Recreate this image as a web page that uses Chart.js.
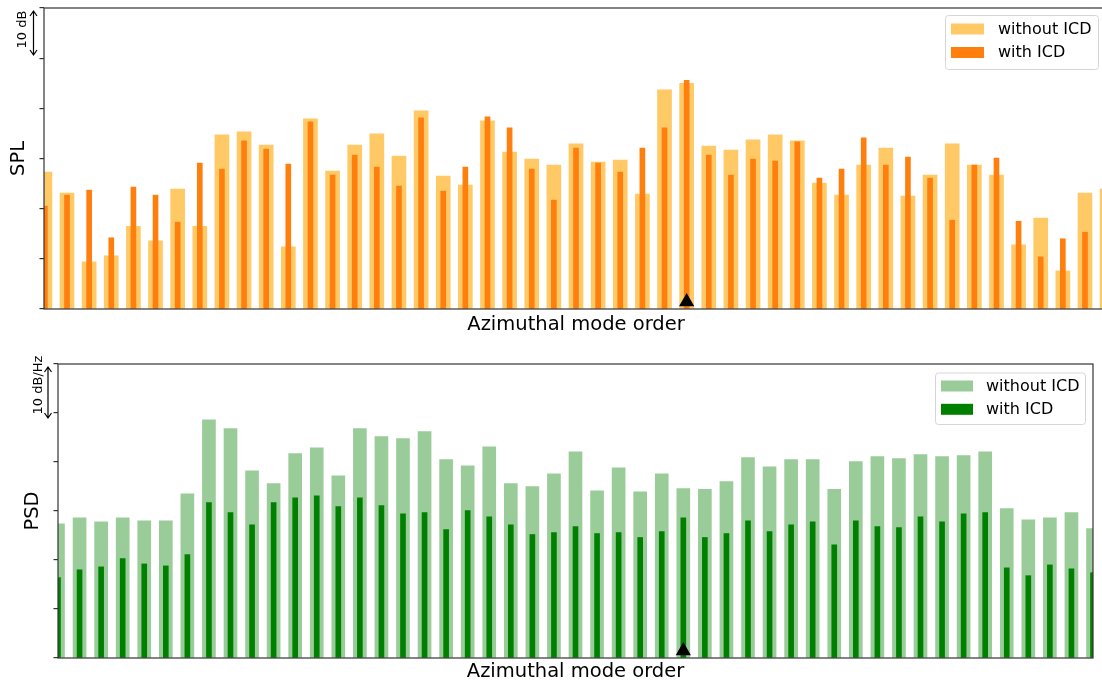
<!DOCTYPE html>
<html>
<head>
<meta charset="utf-8">
<script src="https://cdn.jsdelivr.net/npm/chart.js@4.4.1/dist/chart.umd.min.js"></script>
<style>
  html, body { margin: 0; padding: 0; background: #fff; overflow: hidden; width: 1102px; height: 685px; }
  .panel { position: absolute; left: 0; }
</style>
</head>
<body>
<div class="panel" style="top:0;width:1110px;height:340px"><canvas id="spl" width="1110" height="340"></canvas></div>
<div class="panel" style="top:340px;width:1102px;height:345px"><canvas id="psd" width="1102" height="345"></canvas></div>
<script>
// Azimuthal mode orders on the x axis
const modeOrder = [-24, -23, -22, -21, -20, -19, -18, -17, -16, -15, -14, -13, -12, -11, -10, -9, -8, -7, -6, -5, -4, -3, -2, -1,
                   0, 1, 2, 3, 4, 5, 6, 7, 8, 9, 10, 11, 12, 13, 14, 15, 16, 17, 18, 19, 20, 21, 22, 23, 24];

// Sound pressure level per mode (dB, relative)
const splWithout = [27.3, 23.1, 9.4, 10.6, 16.5, 13.6, 23.9, 16.5, 34.7, 35.3, 32.7, 12.4, 37.9, 27.5, 32.7, 34.9, 30.5,
                    39.5, 26.5, 24.7, 37.5, 31.3, 29.9, 28.7, 32.9, 29.3, 29.7, 22.9, 43.7, 45.0, 32.5, 31.7, 33.7, 34.7,
                    33.5, 25.1, 22.7, 28.7, 32.1, 22.5, 26.7, 32.9, 28.7, 26.7, 12.8, 18.1, 7.6, 23.1, 23.9];
const splWith    = [20.5, 22.7, 23.7, 14.2, 24.3, 22.7, 17.3, 29.1, 27.9, 33.5, 31.9, 28.9, 37.3, 26.7, 30.7, 28.3, 24.5,
                    38.1, 23.5, 28.3, 38.3, 36.1, 27.9, 21.7, 32.1, 29.1, 27.3, 32.1, 36.1, 45.6, 30.7, 26.7, 29.9, 29.5,
                    33.3, 26.1, 27.9, 34.1, 28.7, 30.3, 26.1, 17.7, 28.7, 30.1, 17.5, 10.4, 14.0, 15.3, 20.0];

// Power spectral density per mode (dB/Hz, relative)
const psdWithout = [27.4, 28.6, 27.8, 28.6, 28.0, 28.0, 33.5, 48.6, 46.8, 38.2, 35.6, 41.7, 42.9, 37.2, 46.8, 45.2, 44.8,
                    46.2, 40.5, 39.2, 43.1, 35.6, 35.0, 37.6, 42.1, 34.1, 38.8, 33.9, 37.6, 34.6, 34.4, 36.0, 40.9, 39.0,
                    40.5, 40.5, 34.4, 40.1, 41.1, 40.7, 41.5, 41.1, 41.3, 42.1, 30.5, 28.2, 28.6, 29.7, 26.4];
const psdWith    = [16.4, 18.0, 18.6, 20.3, 19.2, 18.8, 21.1, 31.7, 29.7, 27.2, 31.7, 32.7, 33.1, 30.9, 32.7, 31.1, 29.4,
                    29.7, 26.2, 30.1, 28.8, 27.2, 25.2, 25.6, 26.8, 25.4, 25.6, 24.6, 25.8, 28.6, 24.6, 25.4, 28.0, 25.8,
                    27.2, 27.8, 23.1, 28.0, 26.8, 26.6, 28.8, 27.8, 29.4, 29.7, 18.4, 16.8, 19.0, 18.2, 17.4];

// Highlighted mode marker
const markerMode = [5];
const markerLevel = [1.45];

const FONT = '"DejaVu Sans", Verdana, sans-serif';

function pts(values) { return modeOrder.map((m, i) => ({ x: m, y: values[i] })); }

// Axes frame drawn on top of the bars
const framePlugin = {
  id: 'frame',
  afterDraw(chart) {
    const a = chart.chartArea, ctx = chart.ctx;
    ctx.save();
    ctx.strokeStyle = '#333';
    ctx.lineWidth = 1.2;
    ctx.strokeRect(a.left, a.top, a.right - a.left, a.bottom - a.top);
    ctx.restore();
  }
};

// Axis labels, scale arrow and inset legend
const decorPlugin = {
  id: 'decor',
  afterDraw(chart, args, o) {
    const ctx = chart.ctx, a = chart.chartArea;
    ctx.save();
    ctx.fillStyle = '#000';
    // y label
    ctx.font = '19.5px ' + FONT;
    ctx.save();
    ctx.translate(o.yLabelX, (a.top + a.bottom) / 2);
    ctx.rotate(-Math.PI / 2);
    ctx.textAlign = 'center';
    ctx.textBaseline = 'middle';
    ctx.fillText(o.yLabel, 0, 0);
    ctx.restore();
    // x label
    ctx.textAlign = 'center';
    ctx.textBaseline = 'alphabetic';
    ctx.fillText(o.xLabel, (a.left + a.right) / 2, o.xLabelBase);

    // double-headed scale arrow
    const ar = o.arrow;
    ctx.strokeStyle = '#000';
    ctx.lineWidth = 1.2;
    ctx.beginPath();
    ctx.moveTo(ar.x, ar.y0); ctx.lineTo(ar.x, ar.y1);
    ctx.moveTo(ar.x - 3.5, ar.y0 + 5); ctx.lineTo(ar.x, ar.y0); ctx.lineTo(ar.x + 3.5, ar.y0 + 5);
    ctx.moveTo(ar.x - 3.5, ar.y1 - 5); ctx.lineTo(ar.x, ar.y1); ctx.lineTo(ar.x + 3.5, ar.y1 - 5);
    ctx.stroke();
    ctx.font = '13px ' + FONT;
    ctx.save();
    ctx.translate(ar.tx, ar.ty);
    ctx.rotate(-Math.PI / 2);
    ctx.textAlign = 'center';
    ctx.textBaseline = 'middle';
    ctx.fillText(ar.text, 0, 0);
    ctx.restore();

    // legend
    const lg = o.legend;
    ctx.beginPath();
    ctx.roundRect(lg.left + 0.5, lg.top + 0.5, lg.width, lg.height, 3);
    ctx.fillStyle = 'rgba(255,255,255,0.8)';
    ctx.fill();
    ctx.strokeStyle = '#d6d6d6';
    ctx.lineWidth = 1;
    ctx.stroke();
    ctx.font = '16px ' + FONT;
    ctx.textAlign = 'left';
    ctx.textBaseline = 'middle';
    lg.datasets.forEach((di, r) => {
      const ds = chart.data.datasets[di];
      const cy = lg.top + lg.rows[r];
      ctx.fillStyle = ds.backgroundColor;
      ctx.fillRect(lg.left + lg.patchX, cy - 5.5, lg.patchW, 11);
      ctx.fillStyle = '#000';
      ctx.fillText(ds.label, lg.left + lg.textX, cy + 0.5);
    });
    ctx.restore();
  }
};

function makeChart(id, cfg) {
  return new Chart(document.getElementById(id), {
    data: {
      datasets: [
        { type: 'bar', label: 'without ICD', data: pts(cfg.without), backgroundColor: cfg.light,
          barThickness: cfg.wide, grouped: false, borderWidth: 0, order: 2, clip: 0 },
        { type: 'bar', label: 'with ICD', data: pts(cfg.with), backgroundColor: cfg.dark,
          barThickness: 5, grouped: false, borderWidth: 0, order: 1, clip: 0 },
        { type: 'scatter', label: 'marker', data: markerMode.map((m, i) => ({ x: m, y: markerLevel[i] })),
          pointStyle: 'triangle', pointRadius: 8.8, backgroundColor: '#000', borderWidth: 0, order: 0, clip: false }
      ]
    },
    options: {
      responsive: false,
      animation: false,
      events: [],
      layout: { padding: cfg.padding, autoPadding: false },
      plugins: {
        legend: { display: false },
        tooltip: { enabled: false },
        decor: cfg.decor
      },
      scales: {
        x: {
          type: 'linear', min: cfg.xMin, max: cfg.xMax, offset: false,
          ticks: { display: false }, grid: { display: false, offset: false }, border: { display: false },
          afterFit(s) { s.height = cfg.xAxisH; }
        },
        y: {
          min: 0, max: 60,
          ticks: { display: false, stepSize: 10 },
          grid: { drawOnChartArea: false, drawTicks: true, tickLength: 4.5, color: '#333', lineWidth: 1.2 },
          border: { display: false },
          afterFit(s) { s.width = cfg.yAxisW; }
        }
      }
    },
    plugins: [framePlugin, decorPlugin]
  });
}

makeChart('spl', {
  without: splWithout, with: splWith,
  light: 'rgba(255,165,0,0.6)', dark: '#ff7f0e', wide: 14,
  xMin: -24.04, xMax: 24.04,
  padding: { left: 0, top: 8, right: 2, bottom: 0 },
  xAxisH: 31, yAxisW: 44,
  decor: {
    yLabel: 'SPL', yLabelX: 18.5,
    xLabel: 'Azimuthal mode order', xLabelBase: 329.5,
    arrow: { x: 33.5, y0: 11, y1: 55, tx: 23, ty: 29.5, text: '10 dB' },
    legend: { left: 945, top: 15, width: 153, height: 54, patchX: 6, patchW: 33, textX: 53, rows: [14, 37.5], datasets: [0, 1] }
  }
});

makeChart('psd', {
  without: psdWithout, with: psdWith,
  light: 'rgba(0,128,0,0.4)', dark: '#008000', wide: 13,
  xMin: -24, xMax: 24,
  padding: { left: 0, top: 24, right: 9, bottom: 0 },
  xAxisH: 27, yAxisW: 58,
  decor: {
    yLabel: 'PSD', yLabelX: 33,
    xLabel: 'Azimuthal mode order', xLabelBase: 337.3,
    arrow: { x: 48, y0: 27, y1: 78, tx: 38.5, ty: 45, text: '10 dB/Hz' },
    legend: { left: 935, top: 32.5, width: 150, height: 51.5, patchX: 6, patchW: 32, textX: 51, rows: [13.5, 36.8], datasets: [0, 1] }
  }
});
</script>
</body>
</html>
